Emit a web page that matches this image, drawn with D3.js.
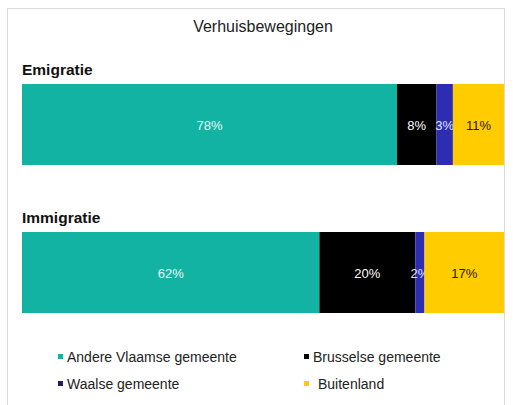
<!DOCTYPE html>
<html>
<head>
<meta charset="utf-8">
<script src="https://cdn.jsdelivr.net/npm/d3@7"></script>
<style>
  body { margin: 0; background: #fff; }
  svg { font-family: "Liberation Sans", Arial, sans-serif; }
</style>
</head>
<body>
<div class="chart"></div>
<script>
const rows = ['Emigratie', 'Immigratie'];
const series = ['Andere Vlaamse gemeente', 'Brusselse gemeente', 'Waalse gemeente', 'Buitenland'];
const vlaams = [77.8, 61.7];
const brussel = [8.2, 19.9];
const waals = [3.4, 1.9];
const buitenland = [10.6, 16.5];
const colors = ['#13b3a4', '#000000', '#2d2db4', '#ffcc00'];
const labelColors = ['#e6f7f5', '#ffffff', '#dfe3ff', '#2a1a00'];
const legendColors = ['#13b3a4', '#000000', '#231d5c', '#ffcc00'];

const width = 513;
const height = 405;

const table = rows.map((r, i) => ({
  row: r,
  [series[0]]: vlaams[i],
  [series[1]]: brussel[i],
  [series[2]]: waals[i],
  [series[3]]: buitenland[i]
}));

const svg = d3.select('.chart')
  .append('svg')
  .attr('width', width)
  .attr('height', height);

// frame
svg.append('rect')
  .attr('x', 7.5)
  .attr('y', 8.5)
  .attr('width', 497)
  .attr('height', 420)
  .attr('fill', 'none')
  .attr('stroke', '#d9d9d9');

svg.append('text')
  .attr('x', 263)
  .attr('y', 32)
  .attr('text-anchor', 'middle')
  .attr('font-size', 16)
  .attr('fill', '#222')
  .text('Verhuisbewegingen');

const xScale = d3.scaleLinear()
  .domain([0, 1])
  .range([22, 504]);

// each bar has its own block: bold heading above it
const yScale = d3.scalePoint()
  .domain(rows)
  .range([84, 232]);
const barHeight = 81;

const stacked = d3.stack()
  .keys(series)
  .offset(d3.stackOffsetExpand)(table);

const groups = svg.selectAll('g.serie')
  .data(stacked)
  .enter()
  .append('g')
  .attr('class', 'serie')
  .attr('fill', (d, i) => colors[i]);

groups.selectAll('rect')
  .data(d => d)
  .enter()
  .append('rect')
  .attr('x', d => xScale(d[0]))
  .attr('y', d => yScale(d.data.row))
  .attr('width', d => xScale(d[1]) - xScale(d[0]))
  .attr('height', barHeight);

const fmt = d3.format('.0%');
groups.each(function (s, si) {
  d3.select(this).selectAll('text')
    .data(s)
    .enter()
    .append('text')
    .attr('x', d => (xScale(d[0]) + xScale(d[1])) / 2)
    .attr('y', d => yScale(d.data.row) + barHeight / 2 + 5)
    .attr('text-anchor', 'middle')
    .attr('font-size', 13)
    .attr('fill', labelColors[si])
    .text(d => fmt(d.data[s.key] / 100));
});

svg.selectAll('text.row-label')
  .data(rows)
  .enter()
  .append('text')
  .attr('class', 'row-label')
  .attr('x', 22)
  .attr('y', d => yScale(d) - 9)
  .attr('font-size', 15.5)
  .attr('font-weight', 'bold')
  .attr('fill', '#111')
  .text(d => d);

// legend, two columns
const legendX = [58, 304];
const legendY = [357, 384];
const legend = svg.selectAll('g.legend')
  .data(series)
  .enter()
  .append('g')
  .attr('class', 'legend')
  .attr('transform', (d, i) => `translate(${legendX[i % 2]},${legendY[Math.floor(i / 2)]})`);

legend.append('rect')
  .attr('x', 0)
  .attr('y', -3)
  .attr('width', 5)
  .attr('height', 5)
  .attr('fill', (d, i) => legendColors[i]);

legend.append('text')
  .attr('x', (d, i) => (i === 3 ? 14 : 9))
  .attr('y', 5)
  .attr('font-size', 14)
  .attr('fill', '#222')
  .text(d => d);
</script>
</body>
</html>
